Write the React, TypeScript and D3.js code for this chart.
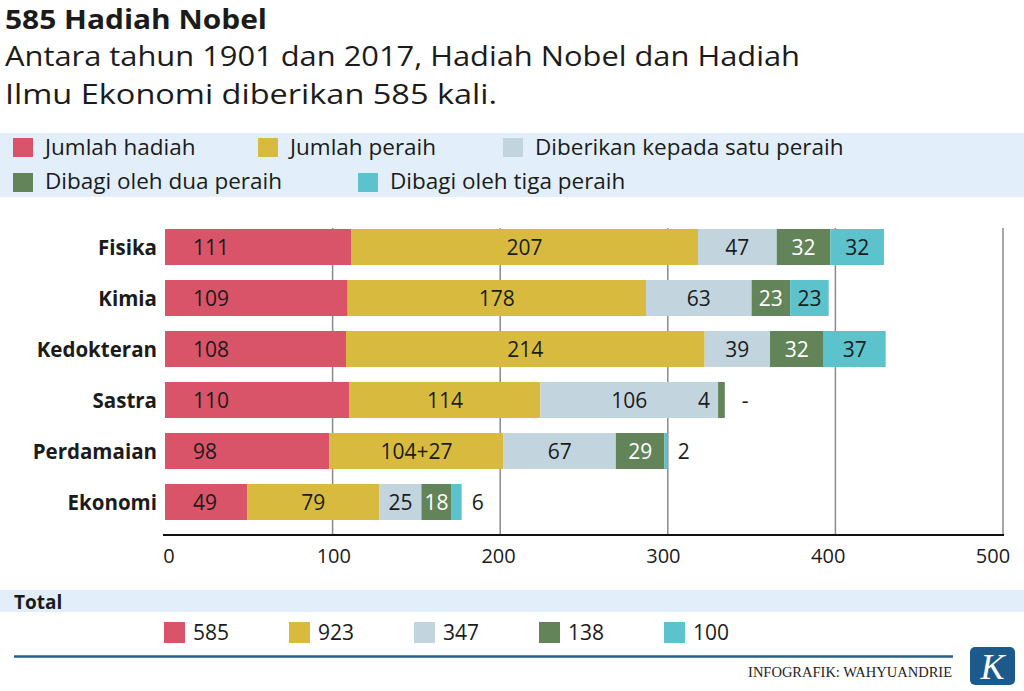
import React from "react";
import * as d3 from "d3";

const categories = ["Fisika", "Kimia", "Kedokteran", "Sastra", "Perdamaian", "Ekonomi"];
const jumlahHadiah = [111, 109, 108, 110, 98, 49];
const jumlahPeraih = [207, 178, 214, 114, 104, 79];
const satuPeraih = [47, 63, 39, 106, 67, 25];
const duaPeraih = [32, 23, 32, 4, 29, 18];
const tigaPeraih = [32, 23, 37, 0, 2, 6];
const peraihLabels = ["207", "178", "214", "114", "104+27", "79"];
const tigaLabels = ["32", "23", "37", "-", "2", "6"];
const seriesNames = [
  "Jumlah hadiah",
  "Jumlah peraih",
  "Diberikan kepada satu peraih",
  "Dibagi oleh dua peraih",
  "Dibagi oleh tiga peraih",
];
const totals = [585, 923, 347, 138, 100];
const xTicks = [0, 100, 200, 300, 400, 500];

const COLORS = ["#d95468", "#d8bb3e", "#c2d5df", "#638459", "#5cc3cc"];
const FONT = "'Open Sans', sans-serif";
const INK = "#1b1b1b";

export default function App() {
  const W = 1024;
  const H = 691;
  const x = d3.scaleLinear().domain([0, 500]).range([165, 1003]);
  const xLabel = d3.scaleLinear().domain([0, 500]).range([169, 993]);
  const y = d3
    .scaleBand<string>()
    .domain(categories)
    .range([221.5, 527.5])
    .paddingInner(0.294)
    .paddingOuter(0.147);

  const series = [jumlahHadiah, jumlahPeraih, satuPeraih, duaPeraih, tigaPeraih];
  const rows = categories.map((c, i) => {
    const vals = series.map((s) => s[i]);
    const labels = [
      String(jumlahHadiah[i]),
      peraihLabels[i],
      String(satuPeraih[i]),
      String(duaPeraih[i]),
      tigaLabels[i],
    ];
    let acc = 0;
    const segs = vals.map((v, k) => {
      const s = { k, v, x0: acc, x1: acc + v, label: labels[k] };
      acc += v;
      return s;
    });
    return { c, segs, total: acc };
  });

  const legendRows = [
    [
      { k: 0, x: 13 },
      { k: 1, x: 258 },
      { k: 2, x: 503 },
    ],
    [
      { k: 3, x: 13 },
      { k: 4, x: 358 },
    ],
  ];

  return (
    <svg width={W} height={H} style={{ display: "block", position: "absolute", left: 0, top: 0 }} fontFamily={FONT}>
      <rect x={0} y={0} width={W} height={H} fill="#ffffff" />
      {/* Title */}
      <text x={5} y={29} fontSize={26.5} fontWeight={700} fill={INK} textLength={262} lengthAdjust="spacingAndGlyphs">
        585 Hadiah Nobel
      </text>
      <text x={5} y={66} fontSize={28} fontWeight={400} fill={INK} textLength={795} lengthAdjust="spacingAndGlyphs">
        Antara tahun 1901 dan 2017, Hadiah Nobel dan Hadiah
      </text>
      <text x={5} y={104} fontSize={28} fontWeight={400} fill={INK} textLength={492} lengthAdjust="spacingAndGlyphs">
        Ilmu Ekonomi diberikan 585 kali.
      </text>

      {/* Legend */}
      <rect x={0} y={133} width={W} height={64} fill="#e2effa" />
      {legendRows.map((row, ri) =>
        row.map((it) => (
          <g key={`${ri}-${it.k}`}>
            <rect x={it.x} y={138 + ri * 35} width={20} height={19} fill={COLORS[it.k]} />
            <text x={it.x + 32} y={155 + ri * 34} fontSize={22.5} fill={INK}>
              {seriesNames[it.k]}
            </text>
          </g>
        ))
      )}

      {/* Gridlines */}
      {xTicks.slice(1).map((t) => (
        <line key={t} x1={x(t)} x2={x(t)} y1={228} y2={535} stroke="#8a8a8a" strokeWidth={1.5} />
      ))}

      {/* Bars */}
      {rows.map((r) => {
        const y0 = y(r.c)!;
        const bh = y.bandwidth();
        const cy = y0 + bh / 2 + 7.5;
        return (
          <g key={r.c}>
            <text x={157} y={cy} textAnchor="end" fontSize={20.5} fontWeight={700} fill={INK}>
              {r.c}
            </text>
            {r.segs.map((s) => (
              <rect
                key={s.k}
                x={x(s.x0)}
                y={y0}
                width={Math.max(0, x(s.x1) - x(s.x0))}
                height={bh}
                fill={COLORS[s.k]}
              />
            ))}
            {r.segs.map((s) => {
              const px0 = x(s.x0);
              const px1 = x(s.x1);
              const w = px1 - px0;
              let tx = (px0 + px1) / 2;
              let anchor: "start" | "middle" | "end" = "middle";
              let fill = s.k === 3 ? "#ffffff" : INK;
              if (s.k === 0) {
                tx = px0 + 28;
                anchor = "start";
              } else if (w < 20) {
                if (s.k === 4) {
                  tx = x(r.total) + (s.v === 0 ? 17 : 10);
                  anchor = "start";
                  fill = INK;
                } else {
                  tx = px0 - 8;
                  anchor = "end";
                  fill = INK;
                }
              }
              return (
                <text key={`t${s.k}`} x={tx} y={cy} textAnchor={anchor} fontSize={21} fill={fill}>
                  {s.label}
                </text>
              );
            })}
          </g>
        );
      })}

      {/* Axis */}
      <line x1={163} x2={x(500) + 1} y1={535} y2={535} stroke="#111" strokeWidth={2} />
      {xTicks.map((t) => (
        <text key={t} x={xLabel(t)} y={563} textAnchor="middle" fontSize={20} fill={INK}>
          {t}
        </text>
      ))}

      {/* Totals */}
      <rect x={0} y={590} width={W} height={22} fill="#e2effa" />
      <text x={14} y={609} fontSize={19} fontWeight={700} fill={INK}>
        Total
      </text>
      {totals.map((t, i) => (
        <g key={i}>
          <rect x={164 + i * 125} y={622} width={21} height={21} fill={COLORS[i]} />
          <text x={193 + i * 125} y={640} fontSize={21} fill={INK}>
            {t}
          </text>
        </g>
      ))}

      {/* Footer */}
      <line x1={14} x2={953} y1={656.5} y2={656.5} stroke="#2a5f88" strokeWidth={2.5} />
      <text x={952} y={677} textAnchor="end" fontSize={14.5} fontFamily="'Liberation Serif', serif" fill="#222">
        INFOGRAFIK: WAHYUANDRIE
      </text>
      <rect x={970} y={647} width={45} height={38} rx={5} fill="#1d5a8c" />
      <text
        x={992.5}
        y={679}
        textAnchor="middle"
        fontSize={36}
        fontStyle="italic"
        fontFamily="'Liberation Serif', serif"
        fill="#ffffff"
      >
        K
      </text>
    </svg>
  );
}
